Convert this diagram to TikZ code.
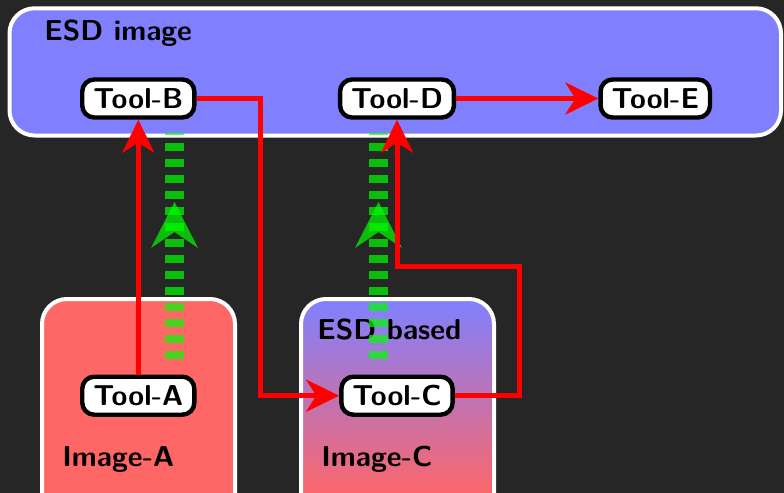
\documentclass[tikz,border=0pt]{standalone}
\usetikzlibrary{arrows.meta}

\definecolor{bgdark}{RGB}{38,38,38}
\definecolor{esdblue}{RGB}{128,128,255}
\definecolor{imgred}{RGB}{255,102,102}
\definecolor{flowgreen}{RGB}{0,255,0}
\definecolor{flowred}{RGB}{255,0,0}

% blue at the top of the box, fading into red towards the bottom
\pgfdeclareverticalshading{esdfade}{100bp}{color(0bp)=(imgred); color(31.5bp)=(imgred); color(75bp)=(esdblue); color(100bp)=(esdblue)}

\tikzset{
  bigbox/.style={draw=white, line width=2pt, rounded corners=12.5pt},
  boxlabel/.style={anchor=base west, inner sep=0pt, text=black,
    font=\sffamily\bfseries\fontsize{14.4}{17}\selectfont},
  tool/.style={draw=black, fill=white, line width=2.2pt, rounded corners=6pt,
    inner xsep=5.5pt, inner ysep=0pt, minimum height=19pt, text=black,
    font=\sffamily\bfseries\fontsize{14.4}{17}\selectfont},
  flow/.style={draw=flowred, line width=2.5pt,
    -{Stealth[length=16.5pt, width=16pt, inset=5pt]}},
  greenflow/.style={draw=flowgreen, draw opacity=0.7, line width=9.5pt,
    dash pattern=on 4pt off 4pt},
  greenhead/.style={fill=flowgreen, fill opacity=0.7},
}

\begin{document}
\begin{tikzpicture}[x=0.5pt, y=-0.5pt]
  % canvas
  \fill[bgdark] (0,0) rectangle (784,493);
  \clip (0,0) rectangle (784,493);

  % containers
  \draw[bigbox, fill=esdblue] (9.5,8.3) rectangle (781,135.5);
  \draw[bigbox, fill=imgred] (42,299) rectangle (235,530);
  \shadedraw[bigbox, shading=esdfade] (301,299) rectangle (494,530);

  % container labels
  \node[boxlabel] (esdimage) at (44,40) {ESD image};
  \node[boxlabel] (esdbased) at (317,339) {ESD based};
  \node[boxlabel] (imagea) at (62,466) {Image-A};
  \node[boxlabel] (imagec) at (321,466) {Image-C};

  % tools
  \node[tool] (toolB) at (138.3,98.5) {Tool-B};
  \node[tool] (toolD) at (397,98.5) {Tool-D};
  \node[tool] (toolE) at (655.3,98.5) {Tool-E};
  \node[tool] (toolA) at (138.3,395.7) {Tool-A};
  \node[tool] (toolC) at (397,395.7) {Tool-C};

  % green dashed flows with their heads
  \coordinate (gA0) at (174.5,359.3);
  \coordinate (gA1) at (174.5,133.3);
  \coordinate (gAtip) at (174.5,202);
  \coordinate (gC0) at (378.5,359.3);
  \coordinate (gC1) at (378.5,133.3);
  \coordinate (gCtip) at (378.5,202);
  \draw[greenflow] (gA0) -- (gA1);
  \draw[greenflow] (gC0) -- (gC1);
  \fill[greenhead] (gAtip) -- ++(23.5,46) -- ++(-23.5,-16) -- ++(-23.5,16) -- cycle;
  \fill[greenhead] (gCtip) -- ++(23.5,46) -- ++(-23.5,-16) -- ++(-23.5,16) -- cycle;

  % red flows
  \coordinate (bendBC) at (260,250);
  \coordinate (bendCD) at (519,266);
  \draw[flow] (toolA.north) -- (toolB.south);
  \draw[flow] (toolB.east) -| (bendBC) |- (toolC.west);
  \draw[flow] (toolC.east) -| (bendCD) -| (toolD.south);
  \draw[flow] (toolD.east) -- (toolE.west);
\end{tikzpicture}
\end{document}
